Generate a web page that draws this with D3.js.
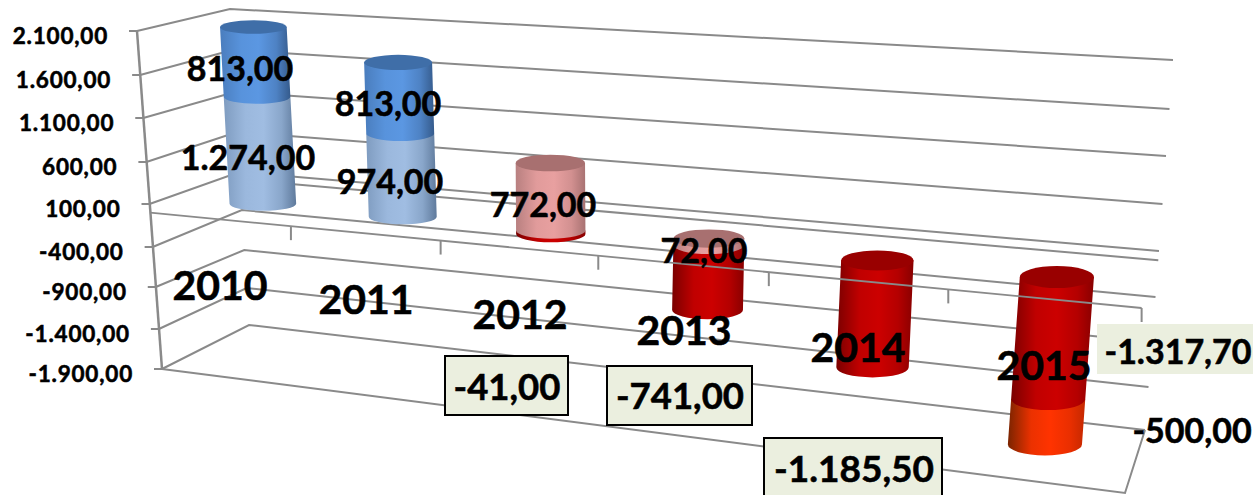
<!DOCTYPE html>
<html><head><meta charset="utf-8">
<script src="https://cdn.jsdelivr.net/npm/d3@7"></script>
<style>html,body{margin:0;background:#fff;overflow:hidden}svg{display:block}text{font-family:Lato,"Open Sans",sans-serif;font-weight:700;fill:#000;stroke:#000;stroke-width:.55px;paint-order:stroke}</style>
</head><body><svg id="c" width="1255" height="495"></svg>
<script>
// ---- data ----
const categories = ["2010","2011","2012","2013","2014","2015"];
const series1 = [1274, 974, 772, 72, -1185.5, -1317.7];
const series2 = [813, 813, -41, -741, 0, -500];
const labels1 = ["1.274,00","974,00","772,00","72,00","","-1.317,70"];
const labels2 = ["813,00","813,00","-41,00","-741,00","-1.185,50","-500,00"];
const tickValues = [2100,1600,1100,600,100,-400,-900,-1400,-1900];
const tickLabels = ["2.100,00","1.600,00","1.100,00","600,00","100,00","-400,00","-900,00","-1.400,00","-1.900,00"];

// ---- 3D frame: the plot box ----
const frontLeftY  = d3.scaleLinear().domain(tickValues).range([31,75,118,162,204,247,287,329,369]);
const backLeftY   = d3.scaleLinear().domain(tickValues).range([9,50,92,132,172,210,250,288,325]);
const backRightY  = d3.scaleLinear().domain(tickValues).range([60,109,156,204,251,297,342,387,430]);
const frontRightY = d3.scaleLinear().domain([2100,0,-1900]).range([104,308,493]);
const frontLeftX  = d3.scaleLinear().domain([2100,-1900]).range([137,162]);
const backLeftX   = d3.scaleLinear().domain([2100,-1900]).range([230,249]);
const backRightX  = d3.scaleLinear().domain([2100,-1900]).range([1173,1145]);
const frontRightX = d3.scaleLinear().domain([2100,-1900]).range([1160,1125]);
// category boundaries along the front edge, foreshortened
const catEdge = [0,.142,.293,.452,.624,.805,1];
const mix = d3.interpolateNumber;
function project(c,d,v){
  const xF = mix(frontLeftX(v),frontRightX(v))(c), xB = mix(backLeftX(v),backRightX(v))(c);
  const yF = mix(frontLeftY(v),frontRightY(v))(c), yB = mix(backLeftY(v),backRightY(v))(c);
  return [mix(xF,xB)(d), mix(yF,yB)(d)];
}
const svg = d3.select("#c");
const line = d3.line();
const GRID="#8a8a8a";
function draw(pts,w=2,p=svg){p.append("path").attr("d",line(pts)).attr("fill","none").attr("stroke",GRID).attr("stroke-width",w);}

// gridlines on side and back walls
tickValues.forEach(v=>{
  draw([project(0,0,v),project(0,1,v),project(1,1,v)]);
  const [x,y]=project(0,0,v);
  draw([[x-8,y],[x,y]]);
  svg.append("text").attr("x",x-29).attr("y",y+13).attr("text-anchor","end").attr("font-size",22.5)
     .attr("letter-spacing",.8).text(tickLabels[tickValues.indexOf(v)]);
});
draw([project(0,0,2100),project(0,0,-1900)],2.5);
// floor of the box, bottom front
draw([project(0,0,-1900),project(1,0,-1900),project(1,1,-1900)]);
// base plane at value 0, back edge
draw([project(0,1,0),project(1,1,0)]);

// ---- cylinders ----
const defs = svg.append("defs");
const palette = {
  light:{edgeL:"#7f9cc0",mid:"#a0bde2",edgeR:"#5f7a9c",cap:"#7f9cc0"},
  blue:{edgeL:"#4a7dbd",mid:"#5b97e2",edgeR:"#355b8c",cap:"#3f6ea8"},
  pink:{edgeL:"#b88080",mid:"#e8a0a0",edgeR:"#a87272",cap:"#a87070"},
  red:{edgeL:"#7a0000",mid:"#cc0000",edgeR:"#880000",cap:"#990000"},
  orange:{edgeL:"#7a2400",mid:"#ff3300",edgeR:"#c42800",cap:"#cc2900"}
};
Object.entries(palette).forEach(([k,p])=>{
  const g=defs.append("linearGradient").attr("id","g-"+k);
  [[0,p.edgeL],[.3,d3.interpolateRgb(p.edgeL,p.mid)(.85)],[.55,p.mid],[.8,d3.interpolateRgb(p.mid,p.edgeR)(.35)],[1,p.edgeR]]
    .forEach(s=>g.append("stop").attr("offset",s[0]).attr("stop-color",s[1]));
});
const radiusX = d3.scaleLinear().domain([0,1]).range([33,37.5]);
const radiusY = d3.scaleLinear().domain([0,1]).range([6.5,11.5]);
const depth = .5, sink = 1.5;
function colourOf(i,pos,first){
  if(i<2) return first?"light":"blue";
  if(pos>0) return "pink";
  if(i===5 && !first) return "orange";
  return "red";
}
function segment(c,from,to,col,cap){
  const rx=radiusX(c), ry=radiusY(c);
  const [xt,yt0]=project(c,depth,Math.max(from,to));
  const [xb,yb0]=project(c,depth,Math.min(from,to));
  const yt=yt0+sink, yb=yb0+sink;
  const d=`M${xt-rx},${yt}L${xt+rx},${yt}L${xb+rx},${yb}A${rx},${ry} 0 0 1 ${xb-rx},${yb}Z`;
  svg.append("path").attr("d",d).attr("fill",`url(#g-${col})`);
  if(cap) svg.append("ellipse").attr("cx",xt).attr("cy",yt).attr("rx",rx).attr("ry",ry).attr("fill",palette[col].cap);
}
categories.forEach((cat,i)=>{
  const c=(catEdge[i]+catEdge[i+1])/2;
  const parts=[];
  let up=0,down=0;
  [[series1[i],true],[series2[i],false]].forEach(([v,first])=>{
    if(!v) return;
    if(v>0){parts.push({from:up,to:up+v,col:colourOf(i,1,first)});up+=v;}
    else{parts.push({from:down,to:down+v,col:colourOf(i,-1,first)});down+=v;}
  });
  // paint from lowest to highest so each bottom curve sits over the one below
  parts.sort((a,b)=>Math.min(a.from,a.to)-Math.min(b.from,b.to));
  parts.forEach((p,k)=>segment(c,p.from,p.to,p.col,k===parts.length-1));
});

// value-axis base line with category ticks, over the cylinders
draw([project(0,0,0),project(1,0,0)],1.8);
catEdge.slice(1).forEach(c=>{const [x,y]=project(c,0,0);draw([[x,y],[x,y+14]]);});

// ---- labels (placement) ----
const catLabelAt = [[220,300],[366,314],[520,329],[684,345],[858,362],[1044,380]];
categories.forEach((t,i)=>svg.append("text").attr("x",catLabelAt[i][0]).attr("y",catLabelAt[i][1])
  .attr("text-anchor","middle").attr("font-size",41).text(t));
const plainAt1 = [[248,170],[390,194],[543,217],[704,263]];
plainAt1.forEach((p,i)=>svg.append("text").attr("x",p[0]).attr("y",p[1]).attr("text-anchor","middle").attr("font-size",34).text(labels1[i]));
const plainAt2 = [[240,81],[388,116]];
plainAt2.forEach((p,i)=>svg.append("text").attr("x",p[0]).attr("y",p[1]).attr("text-anchor","middle").attr("font-size",34).text(labels2[i]));
svg.append("text").attr("x",1192).attr("y",443).attr("text-anchor","middle").attr("font-size",34).text(labels2[5]);
const boxes = [
 {t:labels2[2],x:445,y:356,w:123,h:59,tx:507,ty:400,s:true,fs:36.5},
 {t:labels2[3],x:607,y:366,w:145,h:59,tx:680,ty:409,s:true,fs:36.5},
 {t:labels2[4],x:764,y:438,w:178,h:60,tx:854,ty:482,s:true,fs:37},
 {t:labels1[5],x:1097,y:324,w:156,h:50,tx:1178,ty:364,s:false,fs:34}
];
boxes.forEach(b=>{
  svg.append("rect").attr("x",b.x).attr("y",b.y).attr("width",b.w).attr("height",b.h).attr("fill","#ebefdf")
     .attr("stroke",b.s?"#000":"none").attr("stroke-width",2);
  svg.append("text").attr("x",b.tx).attr("y",b.ty).attr("text-anchor","middle").attr("font-size",b.fs).text(b.t);
});
</script></body></html>
